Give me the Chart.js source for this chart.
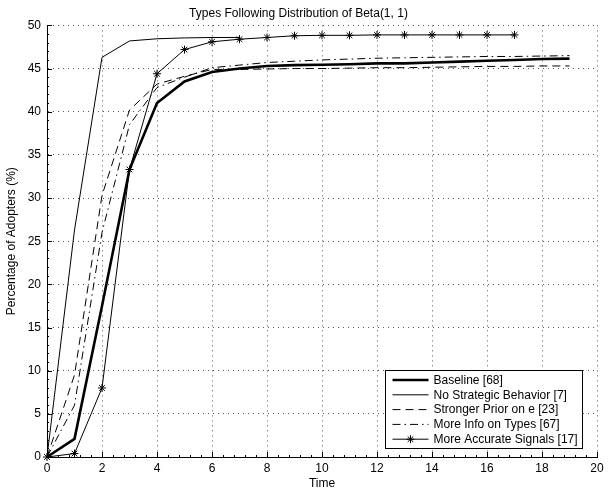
<!DOCTYPE html>
<html>
<head>
<meta charset="utf-8">
<script src="https://cdn.jsdelivr.net/npm/chart.js@4"></script>
<style>
	html, body { margin: 0; padding: 0; background: #fff; }
	canvas { display: block; }
</style>
</head>
<body>
<canvas id="adopters" width="611" height="493"></canvas>
<script>
// 시간축 (0 ~ 19)
const times = [0, 1, 2, 3, 4, 5, 6, 7, 8, 9, 10, 11, 12, 13, 14, 15, 16, 17, 18, 19];

// 각 시나리오별 채택 비율 (%)
const baseline = [0, 2.1, 17.5, 33.3, 41.0, 43.5, 44.6, 45.0, 45.3, 45.4, 45.45, 45.5, 45.6, 45.6, 45.7, 45.8, 45.9, 46.0, 46.1, 46.15];
const noStrategic = [0, 26.3, 46.3, 48.2, 48.45, 48.55, 48.6, 48.6];
const strongerPrior = [0, 9.5, 30.3, 40.2, 43.2, 44.1, 44.9, 44.9, 44.95, 45.0, 45.0, 45.05, 45.1, 45.1, 45.15, 45.2, 45.25, 45.25, 45.3, 45.3];
const moreInfo = [0, 6.0, 26.0, 38.5, 42.8, 44.0, 45.1, 45.4, 45.7, 45.85, 46.0, 46.1, 46.2, 46.25, 46.3, 46.35, 46.4, 46.4, 46.45, 46.5];
const accurateSignals = [0, 0.4, 8.0, 33.3, 44.4, 47.2, 48.1, 48.4, 48.6, 48.8, 48.85, 48.85, 48.9, 48.9, 48.9, 48.9, 48.9, 48.9];

const seriesNames = ['Baseline [68]', 'No Strategic Behavior [7]', 'Stronger Prior on e [23]', 'More Info on Types [67]', 'More Accurate Signals [17]'];
const xTicks = [0, 2, 4, 6, 8, 10, 12, 14, 16, 18, 20];
const yTicks = [0, 5, 10, 15, 20, 25, 30, 35, 40, 45, 50];

function toPoints(values) {
	return values.map(function(v, i) { return { x: times[i], y: v }; });
}

const FONT = "'Liberation Sans', Arial, Helvetica, sans-serif";

// 선 스타일 (범례에서도 같이 사용)
const styles = [
	{ width: 2.6, dash: [], star: false },
	{ width: 1, dash: [], star: false },
	{ width: 1, dash: [8, 5], star: false },
	{ width: 1, dash: [8, 4, 1.5, 4], star: false },
	{ width: 1, dash: [], star: true }
];
const seriesData = [baseline, noStrategic, strongerPrior, moreInfo, accurateSignals];

const datasets = seriesData.map(function(values, i) {
	return {
		label: seriesNames[i],
		data: toPoints(values),
		borderColor: '#000',
		backgroundColor: '#000',
		borderWidth: styles[i].width,
		borderDash: styles[i].dash,
		pointStyle: styles[i].star ? 'star' : 'circle',
		pointRadius: styles[i].star ? 4 : 0,
		pointBorderWidth: 1,
		pointBorderColor: '#000',
		tension: 0,
		clip: false
	};
});

// 안쪽 눈금 + 범례 그리기
const matlabLook = {
	id: 'matlabLook',
	afterDraw(chart) {
		const ctx = chart.ctx;
		const xs = chart.scales.x;
		const ys = chart.scales.y;
		const area = chart.chartArea;
		ctx.save();
		ctx.strokeStyle = '#000';
		ctx.lineWidth = 1;
		ctx.setLineDash([]);
		ctx.beginPath();
		xTicks.forEach(function(t) {
			const px = Math.round(xs.getPixelForValue(t)) + 0.5;
			ctx.moveTo(px, area.bottom);
			ctx.lineTo(px, area.bottom - 5);
		});
		for (let t = 0; t <= 20.001; t += 0.4) {
			const px = Math.round(xs.getPixelForValue(t)) + 0.5;
			ctx.moveTo(px, area.bottom);
			ctx.lineTo(px, area.bottom - 2);
		}
		yTicks.forEach(function(t) {
			const py = Math.round(ys.getPixelForValue(t)) + 0.5;
			ctx.moveTo(area.left, py);
			ctx.lineTo(area.left + 5, py);
		});
		for (let t = 0; t <= 50; t += 1) {
			const py = Math.round(ys.getPixelForValue(t)) + 0.5;
			ctx.moveTo(area.left, py);
			ctx.lineTo(area.left + 2, py);
		}
		ctx.stroke();

		// 범례 박스
		const bx = 385.5, by = 370.5, bw = 197, bh = 78;
		ctx.fillStyle = '#fff';
		ctx.fillRect(bx, by, bw, bh);
		ctx.strokeRect(bx, by, bw, bh);
		ctx.font = '12px ' + FONT;
		ctx.textBaseline = 'middle';
		ctx.textAlign = 'left';
		seriesNames.forEach(function(name, i) {
			const ry = by + 9.5 + i * 14.8;
			ctx.beginPath();
			ctx.lineWidth = styles[i].width;
			ctx.setLineDash(styles[i].dash);
			ctx.moveTo(bx + 7, ry);
			ctx.lineTo(bx + 43, ry);
			ctx.stroke();
			ctx.setLineDash([]);
			if (styles[i].star) {
				ctx.lineWidth = 1;
				const cx = bx + 25, r = 4;
				ctx.beginPath();
				for (let k = 0; k < 4; k++) {
					const a = k * Math.PI / 4;
					ctx.moveTo(cx - r * Math.cos(a), ry - r * Math.sin(a));
					ctx.lineTo(cx + r * Math.cos(a), ry + r * Math.sin(a));
				}
				ctx.stroke();
			}
			ctx.fillStyle = '#000';
			ctx.fillText(name, bx + 48, ry + 0.5);
		});
		ctx.restore();
	}
};

new Chart(document.getElementById('adopters'), {
	type: 'line',
	data: { datasets: datasets },
	options: {
		responsive: false,
		animation: false,
		devicePixelRatio: 1,
		layout: { padding: { left: 0, right: 14, top: 0, bottom: 0 } },
		plugins: {
			legend: { display: false },
			tooltip: { enabled: false },
			title: {
				display: true,
				text: 'Types Following Distribution of Beta(1, 1)',
				color: '#000',
				font: { family: FONT, size: 12, weight: 'normal' },
				padding: { top: 6, bottom: 5 }
			}
		},
		scales: {
			x: {
				type: 'linear',
				min: 0,
				max: 20,
				afterFit: function(scale) { scale.height = 36; },
				afterBuildTicks: function(scale) { scale.ticks = xTicks.map(function(v) { return { value: v }; }); },
				ticks: { color: '#000', font: { family: FONT, size: 12 }, padding: 4, maxRotation: 0 },
				grid: { color: '#555', lineWidth: 1, drawTicks: false },
				border: { display: true, color: '#000', width: 1, dash: [1, 4] },
				title: { display: true, text: 'Time', color: '#000', font: { family: FONT, size: 12 }, padding: { top: 0, bottom: 2 } }
			},
			y: {
				type: 'linear',
				min: 0,
				max: 50,
				afterFit: function(scale) { scale.width = 47; },
				afterBuildTicks: function(scale) { scale.ticks = yTicks.map(function(v) { return { value: v }; }); },
				ticks: { color: '#000', font: { family: FONT, size: 12 }, padding: 6 },
				grid: { color: '#555', lineWidth: 1, drawTicks: false },
				border: { display: true, color: '#000', width: 1, dash: [1, 4] },
				title: { display: true, text: 'Percentage of Adopters (%)', color: '#000', font: { family: FONT, size: 12 }, padding: { top: 4, bottom: 4 } }
			}
		}
	},
	plugins: [matlabLook]
});
</script>
</body>
</html>
